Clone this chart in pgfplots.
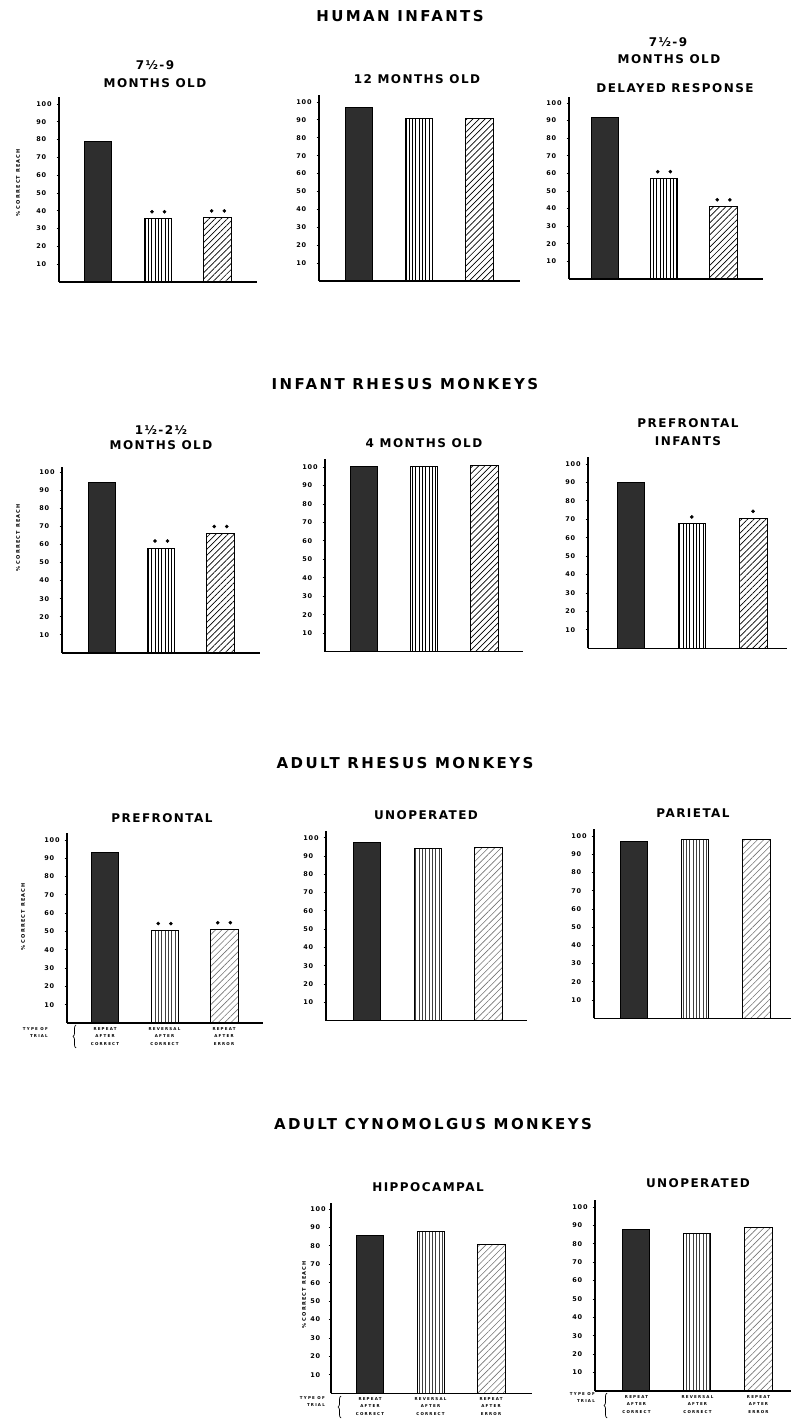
\documentclass[border=0pt]{standalone}
\usepackage{fontspec}
\setmainfont{DejaVu Sans}
\newfontfamily\secfont{DejaVu Sans}[LetterSpace=16]
\newfontfamily\titfont{DejaVu Sans}[LetterSpace=12]
\newfontfamily\tickfont{DejaVu Sans}[LetterSpace=14]
\newfontfamily\labfont{DejaVu Sans}[LetterSpace=24]
\newfontfamily\tinyfont{DejaVu Sans}[LetterSpace=30]
\usepackage{pgfplots}
\pgfplotsset{compat=1.18}
\usetikzlibrary{patterns.meta,decorations.pathreplacing}

\newcommand{\SEC}{\secfont\bfseries\fontsize{15}{17}\selectfont}
\newcommand{\TIT}{\titfont\bfseries\fontsize{12}{14}\selectfont}
\newcommand{\LAB}{\labfont\bfseries\fontsize{5}{6}\selectfont}
\newcommand{\TINY}{\tinyfont\bfseries\fontsize{4}{7.5}\selectfont}
\newcommand{\dott}{\tikz\fill[black] (0,0) circle (1.6pt);}

\pgfplotsset{
  panel/.style={
    anchor=south west,
    axis lines=left,
    axis line style={-, line width=1.1pt, black},
    ymin=0, ytick={10,20,...,100},
    xtick=\empty,
    enlargelimits=false,
    clip=false,
    tick align=outside,
    major tick length=2.5pt,
    ytick style={line width=0.8pt, black},
    yticklabel style={font=\tickfont\bfseries\fontsize{6.5}{7}\selectfont,
      inner sep=0pt, anchor=east, text width=17pt, align=left, xshift=-3pt},
    /pgf/number format/assume math mode=true,
  },
  triallabels/.style={
    xtick={0,1,2},
    xticklabels={{REPEAT\\AFTER\\CORRECT},{REVERSAL\\AFTER\\CORRECT},{REPEAT\\AFTER\\ERROR}},
    x tick style={draw=none},
    xticklabel style={font=\TINY, align=center, inner sep=0pt, yshift=-1.5pt},
  },
  b1/.style={ybar, bar shift=0pt, bar width=27pt, draw=black, line width=1pt, fill=black!82},
  b2/.style={ybar, bar shift=0pt, bar width=27pt, draw=black, line width=1pt,
    pattern={Lines[angle=90,distance=3.3pt,line width=0.8pt]}, pattern color=black},
  b3/.style={ybar, bar shift=0pt, bar width=28pt, draw=black, line width=1pt,
    pattern={Lines[angle=45,distance=4.3pt,line width=0.7pt]}, pattern color=black},
  b2g/.style={b2, pattern color=black!75},
  b3g/.style={b3, pattern={Lines[angle=45,distance=4.5pt,line width=0.6pt]}, pattern color=black!55},
  two stars/.style={nodes near coords={\dott\hspace{9pt}\dott},
    every node near coord/.append style={anchor=south, inner sep=0pt, yshift=5pt}},
  one star/.style={nodes near coords={\dott},
    every node near coord/.append style={anchor=south, inner sep=0pt, yshift=5pt}},
}

\begin{document}
\begin{tikzpicture}
\path[use as bounding box] (0pt,0pt) rectangle (791pt,1419pt);

% ---------------- Section titles ----------------
\node[font=\SEC] at (400pt,1403pt) {HUMAN INFANTS};
\node[font=\SEC] at (405pt,1035pt) {INFANT RHESUS MONKEYS};
\node[font=\SEC] at (405pt,656pt) {ADULT RHESUS MONKEYS};
\node[font=\SEC] at (433pt,295pt) {ADULT CYNOMOLGUS MONKEYS};

% ---------------- Row 1: human infants ----------------
\node[font=\TIT] at (155pt,1354pt) {7½-9};
\node[font=\TIT] at (155pt,1336pt) {MONTHS OLD};
\node[font=\TIT] at (417pt,1340pt) {12 MONTHS OLD};
\node[font=\TIT] at (668pt,1377pt) {7½-9};
\node[font=\TIT] at (669pt,1360pt) {MONTHS OLD};
\node[font=\TIT] at (675pt,1331pt) {DELAYED RESPONSE};
\node[font=\LAB, rotate=90] at (18pt,1236pt) {\% CORRECT REACH};

\begin{axis}[panel, at={(59pt,1137pt)}, x=59.75pt, y=1.78pt, xmin=-0.661, xmax=2.653, ymax=104]
\addplot[b1] coordinates {(0,79)};
\addplot[b2,two stars] coordinates {(1,35.5)};
\addplot[b3,two stars] coordinates {(2,36)};
\end{axis}

\begin{axis}[panel, at={(319pt,1138pt)}, x=60pt, y=1.79pt, xmin=-0.667, xmax=2.683, ymax=104]
\addplot[b1] coordinates {(0,97)};
\addplot[b2] coordinates {(1,90.5)};
\addplot[b3] coordinates {(2,91)};
\end{axis}

\begin{axis}[panel, at={(569pt,1140pt)}, x=59.5pt, y=1.76pt, xmin=-0.597, xmax=2.664, ymax=103.4]
\addplot[b1] coordinates {(0,92)};
\addplot[b2,two stars] coordinates {(1,57)};
\addplot[b3,two stars] coordinates {(2,41)};
\end{axis}

% ---------------- Row 2: infant rhesus ----------------
\node[font=\TIT] at (161pt,989pt) {1½-2½};
\node[font=\TIT] at (161pt,974pt) {MONTHS OLD};
\node[font=\TIT] at (424pt,976pt) {4 MONTHS OLD};
\node[font=\TIT] at (688pt,996pt) {PREFRONTAL};
\node[font=\TIT] at (688pt,978pt) {INFANTS};
\node[font=\LAB, rotate=90] at (18pt,881pt) {\% CORRECT REACH};

\begin{axis}[panel, at={(62pt,766pt)}, x=59.25pt, y=1.81pt, xmin=-0.675, xmax=2.667, ymax=102.5]
\addplot[b1] coordinates {(0,94)};
\addplot[b2,two stars] coordinates {(1,58)};
\addplot[b3,two stars] coordinates {(2,66)};
\end{axis}

\begin{axis}[panel, at={(325pt,767.3pt)}, x=59.75pt, y=1.847pt, xmin=-0.661, xmax=2.653, ymax=104.3]
\addplot[b1] coordinates {(0,100)};
\addplot[b2] coordinates {(1,100.5)};
\addplot[b3] coordinates {(2,101)};
\end{axis}

\begin{axis}[panel, at={(588pt,770.7pt)}, x=61.25pt, y=1.843pt, xmin=-0.694, xmax=2.555, ymax=104]
\addplot[b1] coordinates {(0,90)};
\addplot[b2,one star] coordinates {(1,67.5)};
\addplot[b3,one star] coordinates {(2,70.5)};
\end{axis}

% ---------------- Row 3: adult rhesus ----------------
\node[font=\TIT] at (162pt,601pt) {PREFRONTAL};
\node[font=\TIT] at (426pt,604pt) {UNOPERATED};
\node[font=\TIT] at (693pt,606pt) {PARIETAL};
\node[font=\LAB, rotate=90] at (23pt,502pt) {\% CORRECT REACH};

\begin{axis}[panel, triallabels, at={(67pt,396pt)}, x=59.5pt, y=1.83pt, xmin=-0.639, xmax=2.655, ymax=103.8]
\addplot[b1] coordinates {(0,93)};
\addplot[b2g,two stars] coordinates {(1,50.5)};
\addplot[b3g,two stars] coordinates {(2,51)};
\end{axis}
\node[font=\TINY, align=right, anchor=north east, inner sep=0pt] at (48pt,392pt) {TYPE OF\\TRIAL};
\draw[line width=0.7pt, decorate, decoration={brace, amplitude=3pt}] (76pt,371pt) -- (76pt,394pt);

\begin{axis}[panel, at={(326pt,398.3pt)}, x=60.5pt, y=1.83pt, xmin=-0.678, xmax=2.645, ymax=103.8]
\addplot[b1] coordinates {(0,97.5)};
\addplot[b2g] coordinates {(1,94)};
\addplot[b3g] coordinates {(2,94.5)};
\end{axis}

\begin{axis}[panel, at={(594pt,400.7pt)}, x=61.25pt, y=1.823pt, xmin=-0.645, xmax=2.571, ymax=103.8]
\addplot[b1] coordinates {(0,97)};
\addplot[b2g] coordinates {(1,98)};
\addplot[b3g] coordinates {(2,98)};
\end{axis}

% ---------------- Row 4: adult cynomolgus ----------------
\node[font=\TIT] at (428pt,232pt) {HIPPOCAMPAL};
\node[font=\TIT] at (698pt,236pt) {UNOPERATED};
\node[font=\LAB, rotate=90] at (304pt,124pt) {\% CORRECT REACH};

\begin{axis}[panel, triallabels, at={(331pt,25.7pt)}, x=60.5pt, y=1.843pt, xmin=-0.645, xmax=2.678, ymax=103.3,
  yticklabel style={text width=15pt}]
\addplot[b1] coordinates {(0,85.5)};
\addplot[b2g] coordinates {(1,88)};
\addplot[b3g] coordinates {(2,80.5)};
\end{axis}
\node[font=\TINY, align=right, anchor=north east, inner sep=0pt] at (325pt,23pt) {TYPE OF\\TRIAL};
\draw[line width=0.7pt, decorate, decoration={brace, amplitude=3pt}] (341pt,1pt) -- (341pt,23pt);

\begin{axis}[panel, triallabels, at={(595pt,28pt)}, x=61pt, y=1.84pt, xmin=-0.680, xmax=2.533, ymax=103.8]
\addplot[b1] coordinates {(0,87.5)};
\addplot[b2g] coordinates {(1,85.5)};
\addplot[b3g] coordinates {(2,89)};
\end{axis}
\node[font=\TINY, align=right, anchor=north east, inner sep=0pt] at (595pt,27pt) {TYPE OF\\TRIAL};
\draw[line width=0.7pt, decorate, decoration={brace, amplitude=3pt}] (607pt,1pt) -- (607pt,26pt);

\end{tikzpicture}
\end{document}
